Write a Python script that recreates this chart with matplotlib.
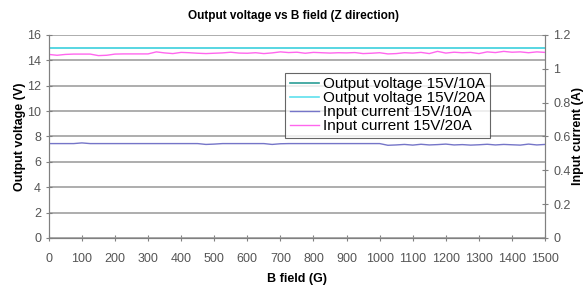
import numpy as np
import matplotlib
matplotlib.use("Agg")
import matplotlib.pyplot as plt

b_field = list(range(0, 1501, 25))

vout_10a = [15.0] * len(b_field)
vout_20a = [15.0] * len(b_field)

iin_20a = [1.085, 1.080, 1.085, 1.087, 1.087, 1.087, 1.078, 1.080, 1.087, 1.088,
           1.088, 1.088, 1.088, 1.100, 1.094, 1.090, 1.097, 1.095, 1.092, 1.090,
           1.092, 1.094, 1.098, 1.093, 1.092, 1.095, 1.090, 1.094, 1.100, 1.096,
           1.098, 1.092, 1.097, 1.095, 1.093, 1.095, 1.094, 1.096, 1.090, 1.092,
           1.095, 1.088, 1.090, 1.095, 1.093, 1.097, 1.090, 1.103, 1.093, 1.098,
           1.095, 1.097, 1.090, 1.100, 1.096, 1.103, 1.098, 1.100, 1.095, 1.100,
           1.097]

iin_10a = [0.558, 0.558, 0.558, 0.558, 0.562, 0.558, 0.558, 0.558, 0.558, 0.558,
           0.558, 0.558, 0.558, 0.558, 0.558, 0.558, 0.558, 0.558, 0.558, 0.553,
           0.555, 0.558, 0.558, 0.558, 0.558, 0.558, 0.558, 0.553, 0.557, 0.558,
           0.558, 0.558, 0.558, 0.558, 0.558, 0.558, 0.558, 0.558, 0.558, 0.558,
           0.558, 0.548, 0.550, 0.553, 0.549, 0.554, 0.550, 0.552, 0.555, 0.550,
           0.552, 0.549, 0.551, 0.554, 0.550, 0.553, 0.551, 0.549, 0.555, 0.550,
           0.553]

x_ticks = list(range(0, 1501, 100))
yl_ticks = [0, 2, 4, 6, 8, 10, 12, 14, 16]
yr_ticks = [0, 0.2, 0.4, 0.6, 0.8, 1.0, 1.2]
yr_labels = ["0", "0.2", "0.4", "0.6", "0.8", "1", "1.2"]

plt.rcParams["font.family"] = ["Liberation Sans", "DejaVu Sans"]

fig = plt.figure(figsize=(5.88, 2.89), dpi=100)
ax = fig.add_axes([0.083, 0.1765, 0.844, 0.7025])
ax2 = ax.twinx()

tick_col = "#555555"
for a in (ax, ax2):
    for s in a.spines.values():
        s.set_color("#808080")
    a.spines["top"].set_visible(False)

ax.set_xlim(0, 1500)
ax.set_ylim(0, 16)
ax2.set_ylim(0, 1.2)
ax.set_xticks(x_ticks)
ax.set_yticks(yl_ticks)
ax2.set_yticks(yr_ticks)
ax2.set_yticklabels(yr_labels)
ax.grid(axis="y", color="#a0a0a0", linewidth=1.2)
ax.set_axisbelow(True)
ax.tick_params(axis="both", direction="inout", length=5, color="#808080",
               labelsize=9, labelcolor=tick_col, pad=3)
ax.tick_params(axis="x", pad=8)
ax2.tick_params(axis="y", direction="inout", length=5, color="#808080",
                labelsize=9, labelcolor=tick_col)

l1, = ax.plot(b_field, vout_10a, color="#2a9d96", linewidth=1.2,
              label="Output voltage 15V/10A")
l2, = ax.plot(b_field, vout_20a, color="#5fe0ee", linewidth=1.2,
              label="Output voltage 15V/20A")
l3, = ax2.plot(b_field, iin_10a, color="#7575c8", linewidth=1.0,
               label="Input current 15V/10A")
l4, = ax2.plot(b_field, iin_20a, color="#ff66ee", linewidth=1.0,
               label="Input current 15V/20A")

ax.set_xlabel("B field (G)", fontsize=9, fontweight="bold", labelpad=6)
ax.set_ylabel("Output voltage (V)", fontsize=9, fontweight="bold", labelpad=1)
ax2.set_ylabel("Input current (A)", fontsize=9, fontweight="bold", labelpad=1)
fig.suptitle("Output voltage vs B field (Z direction)", fontsize=8.5,
             fontweight="bold", y=0.965)

leg = ax2.legend(handles=[l1, l2, l3, l4], loc="upper left",
                 bbox_to_anchor=(0.476, 0.815), fontsize=11, frameon=True,
                 fancybox=False, handlelength=1.9, handletextpad=0.3,
                 borderpad=0.3, labelspacing=0.0, borderaxespad=0)
leg.get_frame().set_edgecolor("#404040")
leg.get_frame().set_linewidth(0.8)

fig.savefig("out.png", dpi=100)
